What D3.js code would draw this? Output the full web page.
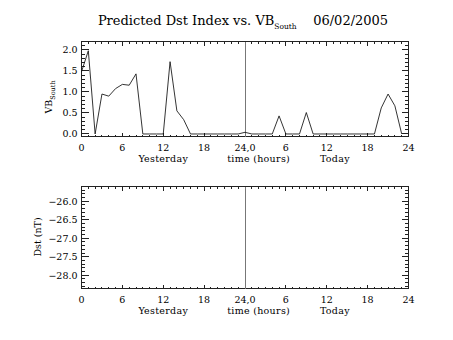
<!DOCTYPE html>
<html><head><meta charset="utf-8">
<script src="https://cdn.jsdelivr.net/npm/d3@7"></script>
<style>
body{margin:0;background:#fff;}
text{font-family:"DejaVu Serif","Liberation Serif",serif;fill:#000;}
</style></head>
<body>
<svg id="c" width="453" height="340"></svg>
<script>
// ---- data ----
const hours = d3.range(0, 48);
const vbSouth = [1.48, 1.98, 0.0, 0.95, 0.90, 1.08, 1.18, 1.16, 1.43, 0.0, 0.0, 0.0,
                 0.0, 1.72, 0.55, 0.34, 0.0, 0.0, 0.0, 0.0, 0.0, 0.0, 0.0, 0.0,
                 0.04, 0.0, 0.0, 0.0, 0.0, 0.43, 0.0, 0.0, 0.0, 0.51, 0.0, 0.0,
                 0.0, 0.0, 0.0, 0.0, 0.0, 0.0, 0.0, 0.0, 0.62, 0.95, 0.67, 0.0];
const xTickValues = [0, 6, 12, 18, 24, 30, 36, 42, 48];
const xTickLabels = ["0", "6", "12", "18", "24,0", "6", "12", "18", "24"];
const vbTicks = [0.0, 0.5, 1.0, 1.5, 2.0];
const dstTicks = [-28.0, -27.5, -27.0, -26.5, -26.0];
const dayLabels = ["Yesterday", "time (hours)", "Today"];
const dayLabelPos = [12, 26, 37.2];
const titleMain = "Predicted Dst Index vs. VB";
const titleSub = "South";
const titleDate = "06/02/2005";

const svg = d3.select("#c");
const L = 81.5, R = 408.5;
const x = d3.scaleLinear().domain([0, 48]).range([L, R]);
const FS = 9.5;

function panel(top, bottom, yDomain, yTicks, yMinorStep) {
  const y = d3.scaleLinear().domain(yDomain).range([bottom, top]);
  const g = svg.append("g");
  g.append("rect").attr("x", L).attr("y", top).attr("width", R - L).attr("height", bottom - top)
    .attr("fill", "none").attr("stroke", "#222").attr("stroke-width", 1).attr("shape-rendering", "crispEdges");
  const xMinor = d3.range(0, 49, 1);
  xMinor.forEach(v => {
    const len = (v % 6 === 0) ? 4 : 2;
    g.append("line").attr("x1", x(v)).attr("x2", x(v)).attr("y1", bottom).attr("y2", bottom - len)
      .attr("stroke", "#222").attr("shape-rendering", "crispEdges");
    g.append("line").attr("x1", x(v)).attr("x2", x(v)).attr("y1", top).attr("y2", top + len)
      .attr("stroke", "#222").attr("shape-rendering", "crispEdges");
  });
  const yMin = Math.ceil(yDomain[0] / yMinorStep - 1e-6), yMax = Math.floor(yDomain[1] / yMinorStep + 1e-6);
  for (let k = yMin; k <= yMax; k++) {
    const v = k * yMinorStep;
    const major = Math.abs(v / 0.5 - Math.round(v / 0.5)) < 1e-6;
    const len = major ? 7 : 3.5;
    g.append("line").attr("x1", L).attr("x2", L + len).attr("y1", y(v)).attr("y2", y(v))
      .attr("stroke", "#222").attr("shape-rendering", "crispEdges");
    g.append("line").attr("x1", R).attr("x2", R - len).attr("y1", y(v)).attr("y2", y(v))
      .attr("stroke", "#222").attr("shape-rendering", "crispEdges");
  }
  yTicks.forEach(v => {
    g.append("text").attr("x", L - 4).attr("y", y(v) + 3.5).attr("text-anchor", "end")
      .attr("font-size", FS).text(v.toFixed(1).replace("-", "\u2212"));
  });
  xTickValues.forEach((v, i) => {
    g.append("text").attr("x", x(v)).attr("y", bottom + 14).attr("text-anchor", "middle")
      .attr("font-size", FS).text(xTickLabels[i]);
  });
  dayLabels.forEach((t, i) => {
    g.append("text").attr("x", x(dayLabelPos[i])).attr("y", bottom + 25.5).attr("text-anchor", "middle")
      .attr("font-size", FS).attr("letter-spacing", 0.3).text(t);
  });
  g.append("line").attr("x1", x(24)).attr("x2", x(24)).attr("y1", top).attr("y2", bottom)
    .attr("stroke", "#777").attr("shape-rendering", "crispEdges");
  return {g, y};
}

const p1 = panel(41.5, 136.5, [-0.06, 2.2], vbTicks, 0.1);
p1.g.append("path").datum(hours)
  .attr("d", d3.line().x(h => x(h)).y(h => p1.y(vbSouth[h])))
  .attr("fill", "none").attr("stroke", "#111").attr("stroke-width", 0.85);

const p2 = panel(186.5, 288.5, [-28.36, -25.6], dstTicks, 0.1);

const t1 = svg.append("text").attr("transform", "translate(52,97) rotate(-90)")
  .attr("text-anchor", "middle").attr("font-size", FS);
t1.append("tspan").text("VB");
t1.append("tspan").attr("font-size", 6.5).attr("dy", 3).text("South");
svg.append("text").attr("transform", "translate(41,237) rotate(-90)")
  .attr("text-anchor", "middle").attr("font-size", FS).text("Dst (nT)");

const tt = svg.append("text").attr("x", 243).attr("y", 25).attr("text-anchor", "middle").attr("font-size", 13);
tt.append("tspan").text(titleMain);
tt.append("tspan").attr("font-size", 7.5).attr("dy", 4).text(titleSub);
tt.append("tspan").attr("dy", -4).text("\u00a0\u00a0\u00a0\u00a0" + titleDate);
</script>
</body></html>
